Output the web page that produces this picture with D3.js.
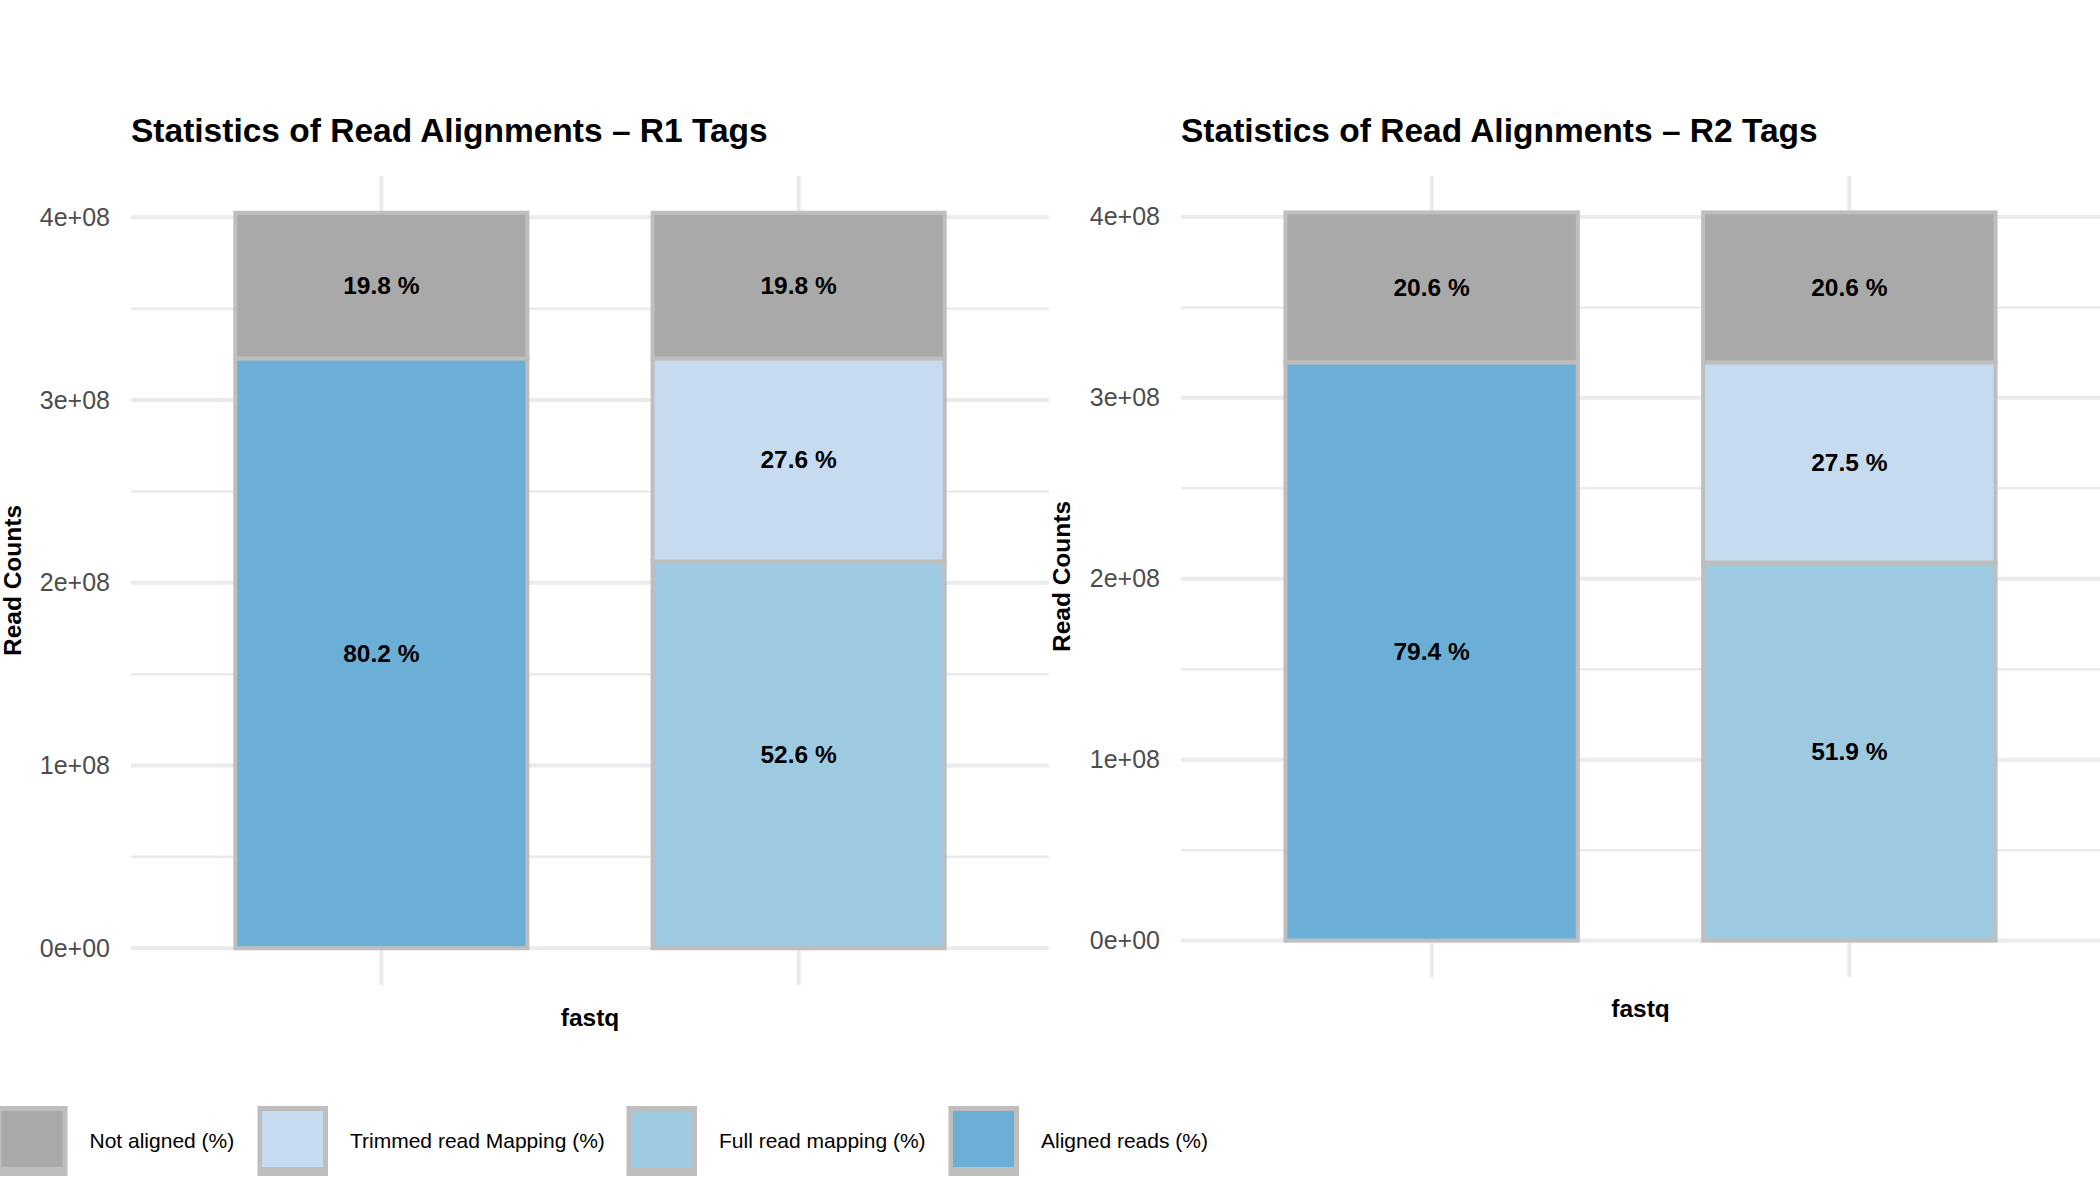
<!DOCTYPE html>
<html>
<head>
<meta charset="utf-8">
<script src="https://cdn.jsdelivr.net/npm/d3@7"></script>
<style>
  html, body { margin: 0; padding: 0; background: #ffffff; }
  svg { display: block; font-family: "Liberation Sans", Arial, Helvetica, sans-serif; }
</style>
</head>
<body>
<svg id="chart" width="2100" height="1200"></svg>
<script>
// ---------------- data ----------------
const categories = ["Not aligned (%)", "Trimmed read Mapping (%)", "Full read mapping (%)", "Aligned reads (%)"];
const categoryColors = ["#A9A9A9", "#C6DBEF", "#9ECAE1", "#6BAED6"];
const barGroups = ["aligned", "mapping"];
const panelTitles = ["Statistics of Read Alignments \u2013 R1 Tags", "Statistics of Read Alignments \u2013 R2 Tags"];
// read counts per stacked segment (bottom to top), per panel
const r1AlignedBar = [
  { cat: "Aligned reads (%)", value: 3.228e8, label: "80.2 %" },
  { cat: "Not aligned (%)", value: 0.797e8, label: "19.8 %" }
];
const r1MappingBar = [
  { cat: "Full read mapping (%)", value: 2.117e8, label: "52.6 %" },
  { cat: "Trimmed read Mapping (%)", value: 1.111e8, label: "27.6 %" },
  { cat: "Not aligned (%)", value: 0.797e8, label: "19.8 %" }
];
const r2AlignedBar = [
  { cat: "Aligned reads (%)", value: 3.196e8, label: "79.4 %" },
  { cat: "Not aligned (%)", value: 0.829e8, label: "20.6 %" }
];
const r2MappingBar = [
  { cat: "Full read mapping (%)", value: 2.089e8, label: "51.9 %" },
  { cat: "Trimmed read Mapping (%)", value: 1.107e8, label: "27.5 %" },
  { cat: "Not aligned (%)", value: 0.829e8, label: "20.6 %" }
];
const yTicks = [0, 1e8, 2e8, 3e8, 4e8];
const yTickLabels = ["0e+00", "1e+08", "2e+08", "3e+08", "4e+08"];
const yMinorTicks = [0.5e8, 1.5e8, 2.5e8, 3.5e8];
const xAxisTitle = "fastq";
const yAxisTitle = "Read Counts";

// ---------------- layout ----------------
const svg = d3.select("#chart");
const color = d3.scaleOrdinal().domain(categories).range(categoryColors);
const GRID = "#EBEBEB";
const OUTLINE = "#BEBEBE";

const panels = [
  { title: panelTitles[0], bars: [r1AlignedBar, r1MappingBar], x0: 131, x1: 1049, top: 176, bottom: 985,
    yTitleX: 21, xTitleY: 1026, tickX: 110 },
  { title: panelTitles[1], bars: [r2AlignedBar, r2MappingBar], x0: 1181, x1: 2100, top: 176, bottom: 977,
    yTitleX: 1070, xTitleY: 1017, tickX: 1160 }
];

panels.forEach(p => {
  const g = svg.append("g");
  const totals = p.bars.map(b => d3.sum(b, d => d.value));
  const maxT = d3.max(totals);
  const y = d3.scaleLinear().domain([-0.05 * maxT, 1.05 * maxT]).range([p.bottom, p.top]);
  const x = d3.scalePoint().domain(barGroups).range([p.x0, p.x1]).padding(0.6);
  const bw = x.step() * 0.7;

  // minor grid
  g.selectAll(".minor").data(yMinorTicks).join("line")
    .attr("x1", p.x0).attr("x2", p.x1)
    .attr("y1", d => y(d)).attr("y2", d => y(d))
    .attr("stroke", GRID).attr("stroke-width", 2.5);
  // major grid
  g.selectAll(".major").data(yTicks).join("line")
    .attr("x1", p.x0).attr("x2", p.x1)
    .attr("y1", d => y(d)).attr("y2", d => y(d))
    .attr("stroke", GRID).attr("stroke-width", 4);
  g.selectAll(".vgrid").data(barGroups).join("line")
    .attr("x1", d => x(d)).attr("x2", d => x(d))
    .attr("y1", p.top).attr("y2", p.bottom)
    .attr("stroke", GRID).attr("stroke-width", 4);

  // y axis tick labels via d3 axis
  const axis = d3.axisLeft(y).tickValues(yTicks).tickSize(0).tickPadding(0)
    .tickFormat((d, i) => yTickLabels[i]);
  const ag = g.append("g").attr("transform", `translate(${p.tickX},0)`).call(axis);
  ag.select(".domain").remove();
  ag.selectAll("text").attr("font-size", 25).attr("fill", "#4D4D4D")
    .attr("font-family", "'Liberation Sans', Arial, sans-serif");

  // bars
  p.bars.forEach((bar, bi) => {
    let cum = 0;
    const segs = bar.map(d => { const s = { ...d, y0: cum, y1: cum + d.value }; cum += d.value; return s; });
    const cx = x(barGroups[bi]);
    const bg = g.append("g");
    bg.selectAll("rect").data(segs).join("rect")
      .attr("x", cx - bw / 2).attr("width", bw)
      .attr("y", d => y(d.y1)).attr("height", d => y(d.y0) - y(d.y1))
      .attr("fill", d => color(d.cat))
      .attr("stroke", OUTLINE).attr("stroke-width", 4);
    bg.selectAll("text").data(segs).join("text")
      .attr("x", cx).attr("y", d => y((d.y0 + d.y1) / 2))
      .attr("dy", "0.35em").attr("text-anchor", "middle")
      .attr("font-size", 24.5).attr("font-weight", "bold").attr("fill", "#000")
      .text(d => d.label);
  });

  // titles
  g.append("text").attr("x", p.x0).attr("y", 142)
    .attr("font-size", 33.5).attr("font-weight", "bold").attr("fill", "#000")
    .text(p.title);
  g.append("text").attr("x", (p.x0 + p.x1) / 2).attr("y", p.xTitleY)
    .attr("text-anchor", "middle").attr("font-size", 24.5).attr("font-weight", "bold")
    .text(xAxisTitle);
  g.append("text")
    .attr("transform", `translate(${p.yTitleX},${(p.top + p.bottom) / 2}) rotate(-90)`)
    .attr("text-anchor", "middle").attr("font-size", 24.5).attr("font-weight", "bold")
    .text(yAxisTitle);
});

// ---------------- legend ----------------
const legendKeyX = [-3, 257.5, 626.5, 948.5];
const leg = svg.append("g");
categories.forEach((c, i) => {
  const kx = legendKeyX[i];
  leg.append("rect").attr("x", kx).attr("y", 1106).attr("width", 70.5).attr("height", 70).attr("fill", OUTLINE);
  leg.append("rect").attr("x", kx + 4.5).attr("y", 1111).attr("width", 61).attr("height", 56).attr("fill", color(c));
  leg.append("text").attr("x", kx + 92.5).attr("y", 1141).attr("dy", "0.35em")
    .attr("font-size", 21).attr("fill", "#000").text(c);
});
</script>
</body>
</html>
